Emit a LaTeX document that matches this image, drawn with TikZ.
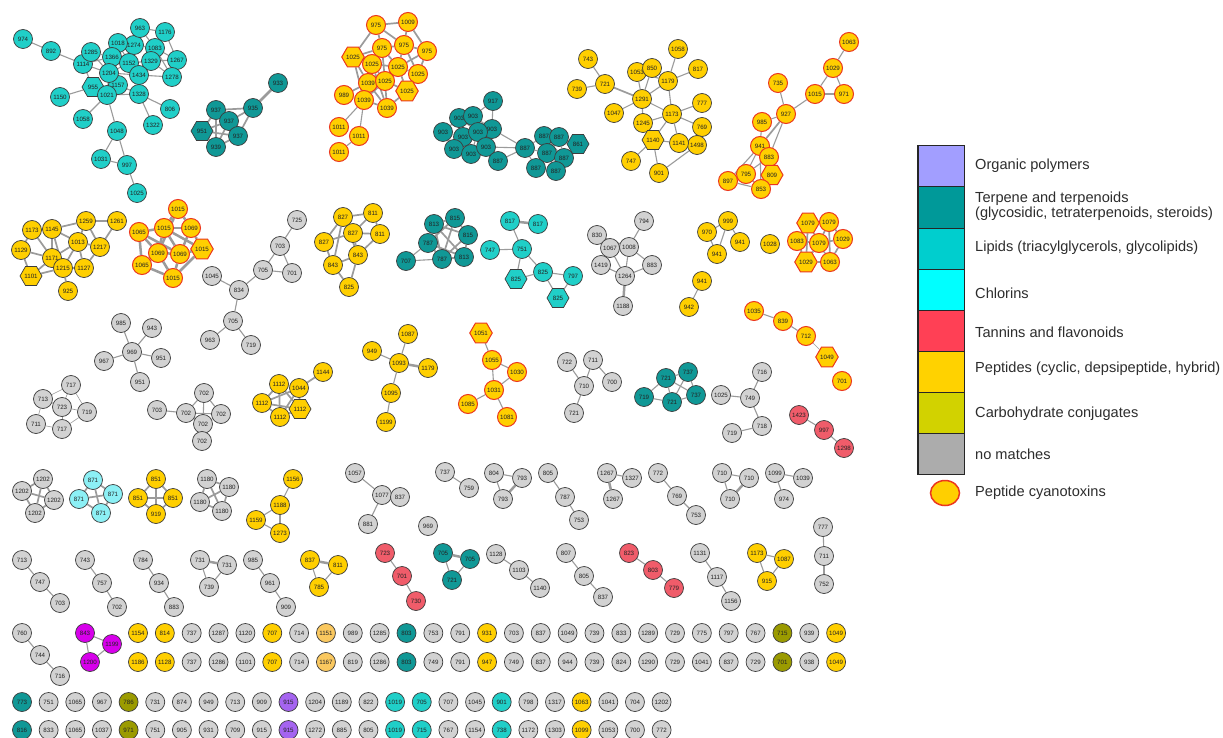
\documentclass[tikz,border=0pt]{standalone}
\usepackage{fontspec}
\setmainfont{Liberation Sans}
\usetikzlibrary{shapes.geometric,backgrounds}
\definecolor{cgray}{RGB}{210,210,210}
\definecolor{cpep}{RGB}{255,207,0}
\definecolor{clip}{RGB}{32,207,200}
\definecolor{cter}{RGB}{16,152,150}
\definecolor{ctan}{RGB}{240,92,106}
\definecolor{cchl}{RGB}{140,240,245}
\definecolor{colive}{RGB}{155,155,0}
\definecolor{cmag}{RGB}{215,0,235}
\definecolor{cpur}{RGB}{165,100,240}
\definecolor{cpo}{RGB}{250,200,95}
\definecolor{ctox}{RGB}{235,55,30}
\definecolor{cbord}{RGB}{60,60,60}
\definecolor{cedge}{RGB}{155,155,155}
\definecolor{ctxt}{RGB}{35,35,35}
\definecolor{lpoly}{RGB}{162,158,255}
\definecolor{lter}{RGB}{0,153,153}
\definecolor{llip}{RGB}{0,206,206}
\definecolor{lchl}{RGB}{0,255,255}
\definecolor{ltan}{RGB}{255,64,85}
\definecolor{lpep}{RGB}{255,210,0}
\definecolor{lcarb}{RGB}{210,210,0}
\definecolor{lnone}{RGB}{172,172,172}
\definecolor{ltext}{RGB}{45,45,45}
\tikzset{
 nd/.style={circle,draw=cbord,line width=0.7pt,minimum size=19pt,inner sep=0pt,font=\fontsize{6.2}{6.2}\selectfont,text=ctxt},
 hx/.style={regular polygon,regular polygon sides=6,draw=cbord,line width=0.7pt,minimum size=22pt,inner sep=0pt,font=\fontsize{6.2}{6.2}\selectfont,text=ctxt},
 gr/.style={fill=cgray}, pe/.style={fill=cpep}, li/.style={fill=clip}, te/.style={fill=cter},
 ta/.style={fill=ctan}, ch/.style={fill=cchl}, ol/.style={fill=colive}, mg/.style={fill=cmag},
 pu/.style={fill=cpur}, po/.style={fill=cpo},
 tx/.style={fill=cpep,draw=ctox,line width=1pt},
 ed/.style={draw=cedge,line width=1.1pt},
 em/.style={draw=cedge,line width=1.7pt},
 ew/.style={draw=cedge,line width=2.5pt},
 ef/.style={draw=cedge,line width=0.6pt},
 lbox/.style={rectangle,draw=black!85,line width=1pt,minimum width=46pt,minimum height=41pt,inner sep=0pt},
 ltxt/.style={anchor=west,inner sep=0pt,font=\fontsize{14.6}{15}\selectfont,text=ltext,align=left}
}
\begin{document}
\begin{tikzpicture}[x=1pt,y=-1pt]
\useasboundingbox (0,0) rectangle (1223,738);
% ---------- lipid cluster
\node[nd,li] (L1) at (23,39) {974};
\node[nd,li] (L2) at (51,51) {892};
\node[nd,li] (L3) at (83,64) {1114};
\node[nd,li] (L4) at (91,52) {1285};
\node[nd,li] (L6) at (134,45) {1274};
\node[nd,li] (L5) at (118,43) {1018};
\node[nd,li] (L7) at (140,28) {963};
\node[nd,li] (L8) at (165,32) {1176};
\node[nd,li] (L9) at (155,48) {1083};
\node[nd,li] (L10) at (112,57) {1366};
\node[nd,li] (L11) at (129,63) {1152};
\node[nd,li] (L12) at (151,61) {1329};
\node[nd,li] (L13) at (177,60) {1267};
\node[nd,li] (L15) at (139,75) {1434};
\node[nd,li] (L16) at (172,77) {1278};
\node[nd,li] (L18) at (118,85) {1157};
\node[nd,li] (L14) at (109,73) {1204};
\node[hx,li] (L17) at (93,87) {955};
\node[nd,li] (L19) at (107,95) {1021};
\node[nd,li] (L20) at (139,94) {1328};
\node[nd,li] (L21) at (60,97) {1150};
\node[nd,li] (L22) at (170,109) {806};
\node[nd,li] (L23) at (83,119) {1058};
\node[nd,li] (L24) at (153,125) {1322};
\node[nd,li] (L25) at (117,131) {1048};
\node[nd,li] (L26) at (101,159) {1031};
\node[nd,li] (L27) at (127,165) {997};
\node[nd,li] (L28) at (137,193) {1025};
% ---------- terpene 933
\node[nd,te] (T1) at (278,83) {933};
\node[nd,te] (T2) at (253,108) {935};
\node[nd,te] (T3) at (216,110) {937};
\node[nd,te] (T4) at (229,121) {937};
\node[hx,te] (T5) at (202,131) {951};
\node[nd,te] (T6) at (238,136) {937};
\node[nd,te] (T7) at (216,147) {939};
% ---------- toxin 975
\node[nd,tx] (C1) at (376,25) {975};
\node[nd,tx] (C2) at (408,22) {1009};
\node[nd,tx] (C3) at (382,48) {975};
\node[nd,tx] (C4) at (404,45) {975};
\node[nd,tx] (C5) at (427,51) {975};
\node[hx,tx] (C6) at (353,57) {1025};
\node[nd,tx] (C7) at (372,64) {1025};
\node[nd,tx] (C8) at (398,67) {1025};
\node[nd,tx] (C9) at (418,74) {1025};
\node[nd,tx] (C10) at (368,83) {1039};
\node[nd,tx] (C11) at (385,81) {1025};
\node[hx,tx] (C12) at (407,91) {1025};
\node[nd,tx] (C13) at (344,95) {989};
\node[nd,tx] (C14) at (364,100) {1039};
\node[nd,tx] (C15) at (387,108) {1039};
\node[nd,tx] (C16) at (339,127) {1011};
\node[nd,tx] (C17) at (359,136) {1011};
\node[nd,tx] (C18) at (339,152) {1011};
% ---------- terpene 903/887
\node[nd,te] (U4) at (492,129) {903};
\node[nd,te] (U6) at (463,137) {903};
\node[nd,te] (U1) at (493,101) {917};
\node[nd,te] (U2) at (459,118) {903};
\node[nd,te] (U3) at (473,116) {903};
\node[nd,te] (U5) at (443,132) {903};
\node[nd,te] (U7) at (478,132) {903};
\node[nd,te] (U8) at (454,149) {903};
\node[nd,te] (U9) at (471,154) {903};
\node[nd,te] (U10) at (486,147) {903};
\node[nd,te] (U11) at (498,161) {887};
\node[nd,te] (U12) at (525,148) {887};
\node[nd,te] (U13) at (544,136) {887};
\node[nd,te] (U14) at (559,137) {887};
\node[hx,te] (U15) at (578,144) {861};
\node[nd,te] (U16) at (547,153) {887};
\node[nd,te] (U17) at (564,158) {887};
\node[nd,te] (U18) at (536,168) {887};
\node[nd,te] (U19) at (556,171) {887};
% ---------- peptide 1291
\node[nd,pe] (P1) at (588,59) {743};
\node[nd,pe] (P2) at (577,89) {739};
\node[nd,pe] (P3) at (605,84) {721};
\node[nd,pe] (P4) at (678,49) {1058};
\node[nd,pe] (P5) at (637,72) {1053};
\node[nd,pe] (P6) at (652,68) {850};
\node[nd,pe] (P7) at (698,69) {817};
\node[nd,pe] (P8) at (668,81) {1179};
\node[nd,pe] (P9) at (642,99) {1291};
\node[nd,pe] (P10) at (702,103) {777};
\node[nd,pe] (P11) at (614,113) {1047};
\node[nd,pe] (P12) at (672,114) {1173};
\node[nd,pe] (P13) at (643,123) {1245};
\node[nd,pe] (P14) at (702,127) {769};
\node[hx,pe] (P15) at (653,140) {1140};
\node[nd,pe] (P17) at (697,145) {1498};
\node[nd,pe] (P16) at (679,143) {1141};
\node[nd,pe] (P18) at (631,161) {747};
\node[nd,pe] (P19) at (659,173) {901};
% ---------- toxin chain 1063
\node[nd,tx] (D1) at (849,42) {1063};
\node[nd,tx] (D2) at (833,68) {1029};
\node[nd,tx] (D3) at (778,83) {735};
\node[nd,tx] (D4) at (815,94) {1015};
\node[nd,tx] (D5) at (844,94) {971};
\node[nd,tx] (D6) at (786,114) {927};
\node[nd,tx] (D7) at (762,122) {985};
\node[nd,tx] (D8) at (760,146) {941};
\node[nd,tx] (D9) at (769,157) {883};
\node[nd,tx] (D10) at (746,174) {795};
\node[hx,tx] (D11) at (772,175) {809};
\node[nd,tx] (D12) at (728,181) {897};
\node[nd,tx] (D13) at (761,189) {853};
% ---------- peptide 1173 (left)
\node[nd,pe] (Q1) at (32,230) {1173};
\node[nd,pe] (Q2) at (52,229) {1145};
\node[nd,pe] (Q3) at (86,221) {1259};
\node[nd,pe] (Q4) at (117,221) {1261};
\node[nd,pe] (Q5) at (78,242) {1013};
\node[nd,pe] (Q6) at (100,247) {1217};
\node[nd,pe] (Q7) at (21,250) {1129};
\node[nd,pe] (Q8) at (52,258) {1171};
\node[hx,pe] (Q9) at (31,276) {1101};
\node[nd,pe] (Q10) at (63,268) {1215};
\node[nd,pe] (Q11) at (84,268) {1127};
\node[nd,pe] (Q12) at (68,291) {925};
% ---------- toxin 1015
\node[nd,tx] (E1) at (178,209) {1015};
\node[nd,tx] (E2) at (139,232) {1065};
\node[nd,tx] (E3) at (164,228) {1015};
\node[nd,tx] (E4) at (191,228) {1069};
\node[hx,tx] (E5) at (202,249) {1015};
\node[nd,tx] (E6) at (142,265) {1065};
\node[nd,tx] (E7) at (158,253) {1069};
\node[nd,tx] (E8) at (180,254) {1069};
\node[nd,tx] (E9) at (173,278) {1015};
% ---------- gray 725 chain
\node[nd,gr] (G1) at (297,220) {725};
\node[nd,gr] (G2) at (280,246) {703};
\node[nd,gr] (G3) at (263,270) {705};
\node[nd,gr] (G4) at (292,273) {701};
\node[nd,gr] (G5) at (212,276) {1045};
\node[nd,gr] (G6) at (239,290) {834};
\node[nd,gr] (G7) at (233,321) {705};
\node[nd,gr] (G8) at (210,340) {963};
\node[nd,gr] (G9) at (251,345) {719};
% ---------- peptide 827
\node[nd,pe] (H1) at (343,217) {827};
\node[nd,pe] (H2) at (373,213) {811};
\node[nd,pe] (H3) at (353,233) {827};
\node[nd,pe] (H4) at (380,234) {811};
\node[nd,pe] (H5) at (324,242) {827};
\node[nd,pe] (H6) at (358,255) {843};
\node[nd,pe] (H7) at (333,265) {843};
\node[nd,pe] (H8) at (349,287) {825};
% ---------- terpene 813
\node[nd,te] (V1) at (434,224) {813};
\node[nd,te] (V2) at (455,218) {815};
\node[nd,te] (V3) at (468,235) {815};
\node[nd,te] (V4) at (428,243) {787};
\node[nd,te] (V5) at (406,261) {707};
\node[nd,te] (V6) at (442,259) {787};
\node[nd,te] (V7) at (464,257) {813};
% ---------- lipid 817
\node[nd,li] (M1) at (510,221) {817};
\node[nd,li] (M2) at (538,224) {817};
\node[nd,li] (M3) at (490,250) {747};
\node[nd,li] (M4) at (522,249) {751};
\node[hx,li] (M5) at (516,279) {825};
\node[nd,li] (M6) at (543,272) {825};
\node[nd,li] (M7) at (573,276) {797};
\node[hx,li] (M8) at (558,298) {825};
% ---------- gray 1264
\node[nd,gr] (N1) at (597,235) {830};
\node[nd,gr] (N2) at (644,221) {794};
\node[nd,gr] (N3) at (610,248) {1067};
\node[nd,gr] (N4) at (629,247) {1008};
\node[nd,gr] (N5) at (601,265) {1419};
\node[nd,gr] (N6) at (625,276) {1264};
\node[nd,gr] (N7) at (652,265) {883};
\node[nd,gr] (N8) at (623,306) {1188};
% ---------- peptide 970 group
\node[nd,pe] (O1) at (728,221) {999};
\node[nd,pe] (O2) at (707,232) {970};
\node[nd,pe] (O3) at (740,242) {941};
\node[nd,pe] (O4) at (717,254) {941};
\node[nd,pe] (O5) at (770,244) {1028};
\node[nd,pe] (O6) at (702,281) {941};
\node[nd,pe] (O7) at (689,307) {942};
% ---------- toxin 1079
\node[hx,tx] (F1) at (808,223) {1079};
\node[nd,tx] (F2) at (829,222) {1079};
\node[nd,tx] (F3) at (797,241) {1083};
\node[nd,tx] (F5) at (843,239) {1029};
\node[nd,tx] (F4) at (819,243) {1079};
\node[hx,tx] (F6) at (806,262) {1029};
\node[nd,tx] (F7) at (830,262) {1063};
% ---------- toxin chain 1035
\node[nd,tx] (K1) at (754,311) {1035};
\node[nd,tx] (K2) at (783,321) {839};
\node[nd,tx] (K3) at (806,336) {712};
\node[hx,tx] (K4) at (827,357) {1049};
\node[nd,tx] (K5) at (842,381) {701};
% ---------- gray 969 star
\node[nd,gr] (S1) at (121,323) {985};
\node[nd,gr] (S2) at (152,328) {943};
\node[nd,gr] (S3) at (132,352) {969};
\node[nd,gr] (S4) at (104,361) {967};
\node[nd,gr] (S5) at (161,358) {951};
\node[nd,gr] (S6) at (140,382) {951};
% ---------- gray 717 cluster
\node[nd,gr] (R1) at (71,385) {717};
\node[nd,gr] (R2) at (43,399) {713};
\node[nd,gr] (R3) at (62,407) {723};
\node[nd,gr] (R4) at (87,412) {719};
\node[nd,gr] (R5) at (36,424) {711};
\node[nd,gr] (R6) at (62,429) {717};
% ---------- gray 702 cluster
\node[nd,gr] (W1) at (204,393) {702};
\node[nd,gr] (W2) at (157,410) {703};
\node[nd,gr] (W3) at (186,413) {702};
\node[nd,gr] (W4) at (221,414) {702};
\node[nd,gr] (W5) at (203,424) {702};
\node[nd,gr] (W6) at (202,441) {702};
% ---------- peptide 1112
\node[nd,pe] (X1) at (323,372) {1144};
\node[nd,pe] (X2) at (279,384) {1112};
\node[nd,pe] (X3) at (299,388) {1044};
\node[nd,pe] (X4) at (262,403) {1112};
\node[hx,pe] (X5) at (300,409) {1112};
\node[nd,pe] (X6) at (280,417) {1112};
% ---------- peptide 1093
\node[nd,pe] (Y1) at (408,334) {1087};
\node[nd,pe] (Y2) at (372,351) {949};
\node[nd,pe] (Y3) at (399,363) {1093};
\node[nd,pe] (Y4) at (428,368) {1179};
\node[nd,pe] (Y5) at (391,393) {1095};
\node[nd,pe] (Y6) at (386,422) {1199};
% ---------- toxin 1051
\node[hx,tx] (Z1) at (481,333) {1051};
\node[nd,tx] (Z2) at (492,360) {1055};
\node[nd,tx] (Z3) at (517,372) {1030};
\node[nd,tx] (Z4) at (494,390) {1031};
\node[nd,tx] (Z5) at (468,404) {1085};
\node[nd,tx] (Z6) at (507,417) {1081};
% ---------- gray 710
\node[nd,gr] (A1) at (567,362) {722};
\node[nd,gr] (A2) at (593,360) {711};
\node[nd,gr] (A3) at (584,386) {710};
\node[nd,gr] (A4) at (574,413) {721};
\node[nd,gr] (A5) at (612,382) {700};
% ---------- terpene 721
\node[nd,te] (B1) at (666,378) {721};
\node[nd,te] (B2) at (688,372) {737};
\node[nd,te] (B3) at (644,397) {719};
\node[nd,te] (B4) at (672,402) {721};
\node[nd,te] (B5) at (696,395) {737};
% ---------- gray 749
\node[nd,gr] (I1) at (762,372) {716};
\node[nd,gr] (I2) at (721,395) {1025};
\node[nd,gr] (I3) at (750,398) {749};
\node[nd,gr] (I4) at (762,426) {718};
\node[nd,gr] (I5) at (732,433) {719};
% ---------- tannin 1423
\node[nd,ta] (J1) at (799,415) {1423};
\node[nd,ta] (J2) at (824,430) {997};
\node[nd,ta] (J3) at (844,448) {1298};
% ---------- row ~470-530
\node[nd,gr] (aa1) at (43,479) {1202};
\node[nd,gr] (aa2) at (22,491) {1202};
\node[nd,gr] (aa3) at (54,500) {1202};
\node[nd,gr] (aa4) at (35,513) {1202};
\node[nd,ch] (ab1) at (93,480) {871};
\node[nd,ch] (ab2) at (113,494) {871};
\node[nd,ch] (ab3) at (79,499) {871};
\node[nd,ch] (ab4) at (101,513) {871};
\node[nd,pe] (ac1) at (156,479) {851};
\node[nd,pe] (ac2) at (138,498) {851};
\node[nd,pe] (ac3) at (173,498) {851};
\node[nd,pe] (ac4) at (156,514) {919};
\node[nd,gr] (ad1) at (207,479) {1180};
\node[nd,gr] (ad2) at (229,487) {1180};
\node[nd,gr] (ad3) at (200,502) {1180};
\node[nd,gr] (ad4) at (222,511) {1180};
\node[nd,pe] (ae1) at (293,479) {1156};
\node[nd,pe] (ae2) at (280,505) {1188};
\node[nd,pe] (ae3) at (256,520) {1159};
\node[nd,pe] (ae4) at (280,533) {1273};
\node[nd,gr] (af1) at (355,473) {1057};
\node[nd,gr] (af2) at (382,495) {1077};
\node[nd,gr] (af3) at (400,497) {837};
\node[nd,gr] (af4) at (368,524) {881};
\node[nd,gr] (ag) at (428,526) {969};
\node[nd,gr] (ah1) at (445,472) {737};
\node[nd,gr] (ah2) at (469,488) {759};
\node[nd,gr] (ai1) at (494,473) {804};
\node[nd,gr] (ai2) at (522,478) {793};
\node[nd,gr] (ai3) at (503,499) {793};
\node[nd,gr] (aj1) at (548,473) {805};
\node[nd,gr] (aj2) at (565,497) {787};
\node[nd,gr] (aj3) at (579,520) {753};
\node[nd,gr] (ak1) at (607,473) {1267};
\node[nd,gr] (ak2) at (632,478) {1327};
\node[nd,gr] (ak3) at (613,499) {1267};
\node[nd,gr] (al1) at (658,473) {772};
\node[nd,gr] (al2) at (677,496) {769};
\node[nd,gr] (al3) at (696,515) {753};
\node[nd,gr] (am1) at (722,473) {710};
\node[nd,gr] (am2) at (749,478) {710};
\node[nd,gr] (am3) at (730,499) {710};
\node[nd,gr] (an1) at (775,473) {1099};
\node[nd,gr] (an2) at (803,478) {1039};
\node[nd,gr] (an3) at (784,499) {974};
\node[nd,gr] (ao1) at (823,527) {777};
\node[nd,gr] (ao2) at (824,556) {711};
\node[nd,gr] (ao3) at (824,584) {752};
% ---------- row ~553-607
\node[nd,gr] (ba1) at (22,560) {713};
\node[nd,gr] (ba2) at (40,582) {747};
\node[nd,gr] (ba3) at (60,603) {703};
\node[nd,gr] (bb1) at (85,560) {743};
\node[nd,gr] (bb2) at (102,583) {757};
\node[nd,gr] (bb3) at (117,607) {702};
\node[nd,gr] (bc1) at (143,560) {784};
\node[nd,gr] (bc2) at (159,583) {934};
\node[nd,gr] (bc3) at (174,607) {883};
\node[nd,gr] (bd1) at (200,560) {731};
\node[nd,gr] (bd2) at (227,565) {731};
\node[nd,gr] (bd3) at (209,587) {739};
\node[nd,gr] (be1) at (253,560) {985};
\node[nd,gr] (be2) at (270,583) {961};
\node[nd,gr] (be3) at (286,607) {909};
\node[nd,pe] (bf1) at (310,560) {837};
\node[nd,pe] (bf2) at (338,565) {811};
\node[nd,pe] (bf3) at (319,587) {785};
\node[nd,ta] (bg1) at (385,553) {723};
\node[nd,ta] (bg2) at (402,576) {701};
\node[nd,ta] (bg3) at (416,601) {730};
\node[nd,te] (bh1) at (443,553) {705};
\node[nd,te] (bh2) at (470,559) {705};
\node[nd,te] (bh3) at (452,580) {721};
\node[nd,gr] (bi1) at (496,554) {1128};
\node[nd,gr] (bi2) at (519,570) {1103};
\node[nd,gr] (bi3) at (540,588) {1140};
\node[nd,gr] (bj1) at (566,553) {807};
\node[nd,gr] (bj2) at (584,576) {805};
\node[nd,gr] (bj3) at (603,597) {837};
\node[nd,ta] (bk1) at (629,553) {823};
\node[nd,ta] (bk2) at (653,570) {803};
\node[nd,ta] (bk3) at (674,588) {779};
\node[nd,gr] (bl1) at (700,553) {1131};
\node[nd,gr] (bl2) at (717,577) {1117};
\node[nd,gr] (bl3) at (731,601) {1156};
\node[nd,pe] (bm1) at (757,553) {1173};
\node[nd,pe] (bm2) at (784,559) {1087};
\node[nd,pe] (bm3) at (767,581) {915};
% ---------- row ~633-676
\node[nd,gr] (ca1) at (22,633) {760};
\node[nd,gr] (ca2) at (40,655) {744};
\node[nd,gr] (ca3) at (60,676) {716};
\node[nd,mg] (cb1) at (85,633) {843};
\node[nd,mg] (cb2) at (112,644) {1199};
\node[nd,mg] (cb3) at (90,662) {1200};
\foreach \i/\a/\b/\c/\w in {0/1154/1186/pe/1.2,1/814/1128/pe/2.2,2/737/737/gr/2.2,3/1287/1286/gr/2.2,4/1120/1101/gr/1,5/707/707/pe/1.5,6/714/714/gr/2.4,7/1151/1167/po/1,8/989/819/gr/1,9/1285/1286/gr/2.4,10/803/803/te/2.4,11/753/749/gr/1,12/791/791/gr/2.4,13/931/947/pe/1,14/703/749/gr/0.8,15/837/837/gr/2.4,16/1049/944/gr/1.2,17/739/739/gr/1.5,18/833/824/gr/1,19/1289/1290/gr/2.4,20/729/729/gr/2.4,21/775/1041/gr/1,22/797/837/gr/1,23/767/729/gr/1,24/715/701/ol/2.2,25/939/938/gr/1,26/1049/1049/pe/2.4}{
  \pgfmathsetmacro\xx{138+26.85*\i}
  \node[nd,\c] (ra\i) at (\xx,633) {\a};
  \node[nd,\c] (rb\i) at (\xx,662) {\b};
  \begin{scope}[on background layer]
  \draw[draw=cedge,line width=\w pt] (ra\i) -- (rb\i);
  \end{scope}
}
\foreach \i/\a/\b/\c/\w in {0/773/816/te/1.2,1/751/833/gr/1.2,2/1065/1065/gr/2.4,3/967/1037/gr/1.2,4/786/971/ol/1.2,5/731/751/gr/1,6/874/905/gr/1,7/949/931/gr/1,8/713/709/gr/1,9/909/915/gr/1,10/915/915/pu/2,11/1204/1272/gr/1.2,12/1189/885/gr/1.5,13/822/805/gr/1.2,14/1019/1019/li/2.4,15/705/715/li/1,16/707/767/gr/1,17/1045/1154/gr/1.2,18/901/738/li/1,19/798/1172/gr/1.2,20/1317/1303/gr/1.2,21/1063/1099/pe/1.2,22/1041/1053/gr/1.2,23/704/700/gr/1,24/1202/772/gr/1.2}{
  \pgfmathsetmacro\xx{22+26.65*\i}
  \node[nd,\c] (sa\i) at (\xx,702) {\a};
  \node[nd,\c] (sb\i) at (\xx,730) {\b};
  \begin{scope}[on background layer]
  \draw[draw=cedge,line width=\w pt] (sa\i) -- (sb\i);
  \end{scope}
}
% ---------- edges
\begin{scope}[on background layer]
\fill[white] (0,0) rectangle (1223,738);
\foreach \a/\b in {L1/L2,L2/L3,L3/L4,L3/L10,L3/L14,L3/L17,L4/L10,L4/L14,L5/L6,L5/L10,L5/L11,L6/L7,L6/L9,L6/L11,L7/L8,L7/L9,L8/L13,L9/L12,L9/L13,L9/L16,L10/L11,L10/L14,L11/L12,L11/L15,L11/L14,L12/L13,L12/L15,L12/L16,L13/L16,L14/L15,L14/L18,L14/L19,L15/L16,L15/L20,L17/L19,L17/L21,L18/L19,L18/L20,L19/L20,L19/L23,L19/L25,L20/L22,L20/L24,L25/L26,L25/L27,L26/L27,L27/L28}
  \draw[ed] (\a) -- (\b);
\foreach \a/\b in {T2/T3,T2/T4,T2/T6,T3/T4,T3/T5,T3/T7,T3/T6,T4/T6,T4/T5,T5/T6,T5/T7,T6/T7,T4/T7}
  \draw[em] (\a) -- (\b);
\draw[ew] (T1) -- (T2);
\foreach \a/\b in {C1/C2,C1/C3,C1/C4,C1/C6,C2/C4,C2/C5,C3/C4,C3/C6,C3/C7,C3/C8,C4/C5,C4/C8,C4/C9,C5/C9,C5/C8,C6/C7,C6/C10,C6/C14,C7/C8,C7/C10,C7/C11,C8/C9,C8/C11,C8/C12,C9/C12,C10/C11,C10/C13,C10/C14,C11/C12,C11/C14,C11/C15,C12/C15,C13/C14,C14/C15,C7/C15,C3/C11,C10/C15}
  \draw[em] (\a) -- (\b);
\foreach \a/\b in {C14/C16,C14/C17,C17/C18}
  \draw[ed] (\a) -- (\b);
\foreach \a/\b in {U1/U4,U2/U3,U2/U5,U2/U7,U3/U7,U3/U4,U4/U7,U4/U10,U4/U12,U5/U6,U5/U8,U6/U7,U6/U8,U7/U9,U7/U10,U8/U9,U9/U10,U10/U11,U10/U12,U11/U12,U12/U13,U12/U16,U12/U18,U13/U14,U13/U16,U14/U15,U14/U16,U14/U17,U16/U17,U16/U18,U16/U19,U17/U19,U18/U19,U13/U17,U3/U1}
  \draw[ed] (\a) -- (\b);
\foreach \a/\b in {P1/P3,P2/P3,P9/P11,P9/P5,P9/P6,P9/P8,P9/P12,P9/P13,P5/P6,P6/P8,P4/P8,P7/P8,P8/P12,P12/P10,P12/P14,P12/P16,P12/P13,P12/P15,P13/P15,P15/P18,P15/P19,P15/P16,P16/P17,P14/P17,P19/P17,P5/P8}
  \draw[ed] (\a) -- (\b);
\draw[em] (P3) -- (P9);
\foreach \a/\b in {D1/D2,D2/D4,D2/D5,D4/D5,D4/D6,D6/D3,D7/D8,D8/D9,D8/D10,D8/D11,D8/D12,D8/D13,D9/D10,D9/D11,D10/D12,D10/D13,D11/D13,D12/D13,D6/D7,D6/D9}
  \draw[ed] (\a) -- (\b);
\draw[em] (D6) -- (D8);
\foreach \a/\b in {Q1/Q2,Q1/Q7,Q1/Q8,Q2/Q3,Q2/Q8,Q2/Q5,Q2/Q10,Q3/Q4,Q3/Q5,Q4/Q6,Q5/Q6,Q5/Q8,Q5/Q10,Q5/Q11,Q6/Q11,Q7/Q8,Q7/Q9,Q8/Q9,Q8/Q10,Q9/Q10,Q10/Q11,Q10/Q12,Q3/Q6}
  \draw[em] (\a) -- (\b);
\foreach \a/\b in {E1/E3,E1/E4,E2/E3,E2/E6,E2/E7,E3/E4,E3/E7,E3/E8,E4/E5,E4/E8,E5/E8,E5/E9,E6/E7,E6/E9,E7/E8,E7/E9,E8/E9,E3/E5,E2/E8,E1/E7}
  \draw[ew] (\a) -- (\b);
\foreach \a/\b in {G1/G2,G2/G3,G2/G4,G3/G4,G3/G6,G5/G6,G6/G7,G7/G8,G7/G9}
  \draw[ed] (\a) -- (\b);
\foreach \a/\b in {H1/H2,H1/H3,H1/H5,H1/H7,H2/H3,H2/H4,H3/H4,H3/H5,H3/H6,H4/H6,H5/H7,H6/H7,H6/H8,H7/H8,H1/H6}
  \draw[em] (\a) -- (\b);
\foreach \a/\b in {V1/V2,V1/V3,V1/V4,V1/V6,V1/V7,V2/V3,V2/V4,V3/V6,V3/V7,V4/V6,V4/V7,V6/V7,V2/V6}
  \draw[em] (\a) -- (\b);
\foreach \a/\b in {V4/V5,V5/V6}
  \draw[ed] (\a) -- (\b);
\foreach \a/\b in {M1/M4,M3/M4,M4/M5,M4/M6,M5/M6,M6/M7,M6/M8,M7/M8}
  \draw[ed] (\a) -- (\b);
\draw[ew] (M1) -- (M2);
\foreach \a/\b in {N1/N3,N1/N4,N2/N4,N3/N4,N3/N5,N3/N6,N4/N6,N4/N7,N5/N6,N6/N7}
  \draw[ed] (\a) -- (\b);
\draw[ew] (N6) -- (N8);
\foreach \a/\b in {O1/O2,O1/O3,O2/O4,O1/O4,O6/O7}
  \draw[ed] (\a) -- (\b);
\foreach \a/\b in {F1/F2,F1/F3,F1/F4,F2/F4,F2/F5,F3/F4,F3/F6,F4/F5,F4/F6,F4/F7,F5/F7,F6/F7,F1/F6,F2/F7}
  \draw[em] (\a) -- (\b);
\foreach \a/\b in {K1/K2,K2/K3}
  \draw[ed] (\a) -- (\b);
\draw[ef] (K3) -- (K4);
\foreach \a/\b in {S3/S1,S3/S2,S3/S4,S3/S5,S3/S6}
  \draw[ed] (\a) -- (\b);
\foreach \a/\b in {R1/R2,R1/R4,R2/R5,R5/R6,R6/R4,R2/R3,R3/R4,R1/R3,R3/R6}
  \draw[ef] (\a) -- (\b);
\foreach \a/\b in {W2/W3,W1/W3,W1/W4,W1/W5,W3/W5,W4/W5,W5/W6,W3/W4}
  \draw[ed] (\a) -- (\b);
\foreach \a/\b in {X1/X3,X2/X3,X2/X4,X2/X5,X2/X6,X3/X4,X3/X5,X3/X6,X4/X5,X4/X6,X5/X6}
  \draw[em] (\a) -- (\b);
\foreach \a/\b in {Y1/Y3,Y2/Y3,Y3/Y5,Y5/Y6}
  \draw[ed] (\a) -- (\b);
\draw[ew] (Y3) -- (Y4);
\foreach \a/\b in {Z1/Z2,Z2/Z3,Z2/Z4,Z3/Z4,Z4/Z5,Z4/Z6}
  \draw[ed] (\a) -- (\b);
\foreach \a/\b in {A1/A3,A2/A3,A3/A4,A2/A5}
  \draw[ed] (\a) -- (\b);
\foreach \a/\b in {B1/B2,B1/B3,B1/B4,B1/B5,B2/B4,B2/B5,B3/B4,B4/B5}
  \draw[ed] (\a) -- (\b);
\foreach \a/\b in {I1/I3,I2/I3,I3/I4,I4/I5,J1/J2,J2/J3}
  \draw[ed] (\a) -- (\b);
\foreach \a/\b in {aa1/aa2,aa1/aa3,aa2/aa4,aa3/aa4,aa1/aa4,aa2/aa3,ab1/ab2,ab1/ab3,ab2/ab4,ab3/ab4,ab1/ab4,ab2/ab3,ac1/ac2,ac1/ac3,ac2/ac4,ac3/ac4,ac1/ac4,ad1/ad2,ad1/ad3,ad2/ad4,ad3/ad4,ad1/ad4,ad2/ad3}
  \draw[em] (\a) -- (\b);
\draw[ew] (ac2) -- (ac3);
\foreach \a/\b in {ae1/ae2,ae2/ae3,ae2/ae4,ae3/ae4,af1/af2,af2/af4,ah1/ah2,ai1/ai2,ai1/ai3,aj1/aj2,aj2/aj3,ak1/ak2,al1/al2,al2/al3,am1/am2,am1/am3,an1/an2,an1/an3,ao1/ao2,ao2/ao3}
  \draw[ed] (\a) -- (\b);
\foreach \a/\b in {af2/af3,ai2/ai3,ak1/ak3,am2/am3}
  \draw[ew] (\a) -- (\b);
\foreach \a/\b in {ba1/ba2,ba2/ba3,bb1/bb2,bb2/bb3,bc1/bc2,bc2/bc3,bd1/bd3,bd2/bd3,be1/be2,be2/be3,bf2/bf3,bf1/bf3,bg1/bg2,bg2/bg3,bh1/bh3,bh2/bh3,bi1/bi2,bi2/bi3,bj1/bj2,bj2/bj3,bk1/bk2,bk2/bk3,bl1/bl2,bl2/bl3,bm1/bm2,bm1/bm3,bm2/bm3,ca1/ca2,ca2/ca3,cb1/cb2,cb1/cb3,cb2/cb3}
  \draw[ed] (\a) -- (\b);
\foreach \a/\b in {bd1/bd2,bf1/bf2,bh1/bh2}
  \draw[ew] (\a) -- (\b);
\end{scope}
% ---------- legend
\node[lbox,fill=lpoly] (lb1) at (941,166.5) {};
\node[lbox,fill=lter] (lb2) at (941,207.5) {};
\node[lbox,fill=llip] (lb3) at (941,248.5) {};
\node[lbox,fill=lchl] (lb4) at (941,289.5) {};
\node[lbox,fill=ltan] (lb5) at (941,330.5) {};
\node[lbox,fill=lpep] (lb6) at (941,371.5) {};
\node[lbox,fill=lcarb] (lb7) at (941,412.5) {};
\node[lbox,fill=lnone] (lb8) at (941,453.5) {};
\draw[black!85,line width=1.6pt] (lb1.north west) rectangle (lb8.south east);
\node[ltxt] (lt1) at (975,166) {Organic polymers};
\node[ltxt] (lt2) at (975,206) {Terpene and terpenoids\\(glycosidic, tetraterpenoids, steroids)};
\node[ltxt] (lt3) at (975,248) {Lipids (triacylglycerols, glycolipids)};
\node[ltxt] (lt4) at (975,293) {Chlorins};
\node[ltxt] (lt5) at (975,332) {Tannins and flavonoids};
\node[ltxt] (lt6) at (975,369) {Peptides (cyclic, depsipeptide, hybrid)};
\node[ltxt] (lt7) at (975,414) {Carbohydrate conjugates};
\node[ltxt] (lt8) at (975,454) {no matches};
\node[ellipse,fill=cpep,draw=ctox,line width=1.5pt,minimum width=29pt,minimum height=25pt,inner sep=0pt] (lc) at (945,493) {};
\node[ltxt] (lt9) at (975,493) {Peptide cyanotoxins};
\end{tikzpicture}
\end{document}
